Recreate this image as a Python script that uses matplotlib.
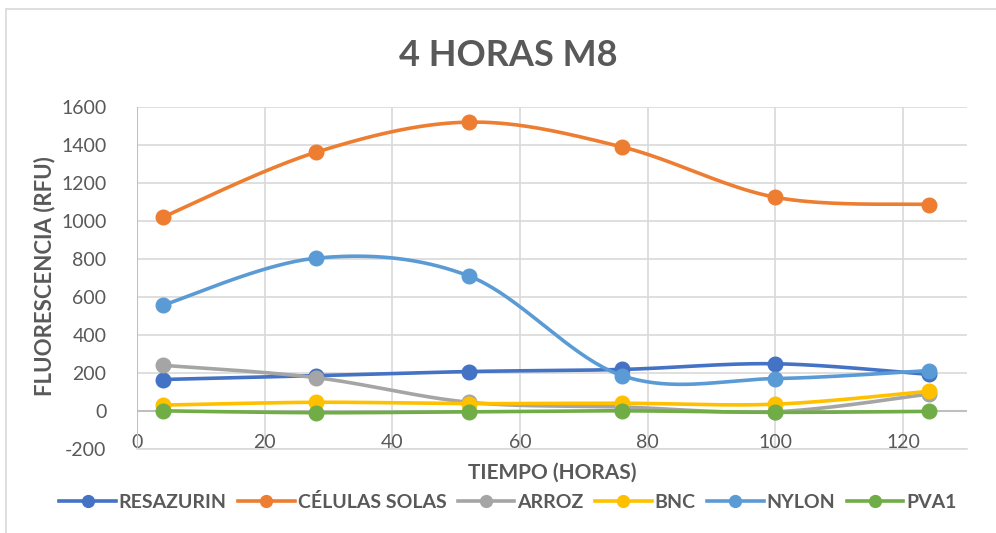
import numpy as np
import matplotlib
matplotlib.use("Agg")
import matplotlib.pyplot as plt
from matplotlib.patches import Rectangle

plt.rcParams['font.family'] = ['Lato', 'DejaVu Sans']
plt.rcParams['axes.unicode_minus'] = False

horas = [4, 28, 52, 76, 100, 124]
resazurin = [165, 185, 207, 218, 248, 192]
celulas_solas = [1020, 1362, 1521, 1390, 1125, 1087]
arroz = [240, 175, 45, 20, -5, 88]
bnc = [30, 45, 38, 40, 35, 103]
nylon = [556, 804, 710, 185, 170, 212]
pva1 = [0, -10, -5, 0, -8, -3]

series = [
    ('RESAZURIN', resazurin, '#4472C4'),
    ('CÉLULAS SOLAS', celulas_solas, '#ED7D31'),
    ('ARROZ', arroz, '#A5A5A5'),
    ('BNC', bnc, '#FFC000'),
    ('NYLON', nylon, '#5B9BD5'),
    ('PVA1', pva1, '#70AD47'),
]
TXT = '#595959'


def smooth(x, y, n=40):
    # catmull-rom style bezier through every point
    x = np.asarray(x, float)
    y = np.asarray(y, float)
    pts = np.column_stack([x, y])
    out = [pts[0]]
    for i in range(len(pts) - 1):
        p0 = pts[i - 1] if i > 0 else pts[i]
        p1 = pts[i]
        p2 = pts[i + 1]
        p3 = pts[i + 2] if i + 2 < len(pts) else pts[i + 1]
        c1 = p1 + (p2 - p0) / 6.0
        c2 = p2 - (p3 - p1) / 6.0
        t = np.linspace(0, 1, n)[1:, None]
        seg = ((1 - t) ** 3) * p1 + 3 * ((1 - t) ** 2) * t * c1 \
            + 3 * (1 - t) * t ** 2 * c2 + t ** 3 * p2
        out.extend(seg)
    out = np.array(out)
    return out[:, 0], out[:, 1]


fig = plt.figure(figsize=(9.96, 5.33), dpi=100)
ax = fig.add_axes([0.1376, 0.158, 0.9709 - 0.1376, 0.799 - 0.158])

# chart frame
fig.patches.append(Rectangle((0.006, -0.02), 1.1, 1.003, transform=fig.transFigure,
                             fill=False, edgecolor='#D9D9D9', linewidth=1.2))

handles = []
for name, vals, col in series:
    sx, sy = smooth(horas, vals)
    ax.plot(sx, sy, color=col, linewidth=2.6, solid_capstyle='round', zorder=3)
    ax.plot(horas, vals, 'o', color=col, markersize=10.5, zorder=3)
    h, = ax.plot([], [], color=col, linewidth=2.6, marker='o', markersize=8.5, label=name)
    handles.append(h)

ax.set_xlim(0, 130)
ax.set_ylim(-200, 1600)
ax.set_xticks(np.arange(0, 121, 20))
ax.set_yticks(np.arange(-200, 1601, 200))
ax.grid(True, color='#D9D9D9', linewidth=1.2, zorder=0)
ax.set_axisbelow(True)
ax.axhline(0, color='#BFBFBF', linewidth=1.5, zorder=1)
ax.axvline(0, color='#BFBFBF', linewidth=1.5, zorder=1)
for s in ['top', 'right', 'left']:
    ax.spines[s].set_visible(False)
ax.spines['bottom'].set_color('#D9D9D9')
ax.spines['bottom'].set_linewidth(1.2)
ax.tick_params(axis='both', length=0, colors=TXT, labelsize=14)
ax.tick_params(axis='x', pad=-11)
ax.tick_params(axis='y', pad=22)

fig.text(0.51, 0.895, '4 HORAS M8', fontsize=26, fontweight='bold', color=TXT,
         ha='center', va='center')
ax.set_xlabel('TIEMPO (HORAS)', fontsize=15, fontweight='bold', color=TXT, labelpad=9)
fig.text(45 / 996, 1 - 276 / 533, 'FLUORESCENCIA (RFU)', fontsize=16, fontweight='bold',
         color=TXT, rotation=90, ha='center', va='center')

leg = fig.legend(handles=handles, loc='center', bbox_to_anchor=(0.51, 0.058), ncol=6,
                 frameon=False, fontsize=14, handlelength=2.9, handletextpad=0.15,
                 columnspacing=0.6)
for t in leg.get_texts():
    t.set_color(TXT)
    t.set_fontweight('bold')

fig.savefig('out.png', dpi=100)
